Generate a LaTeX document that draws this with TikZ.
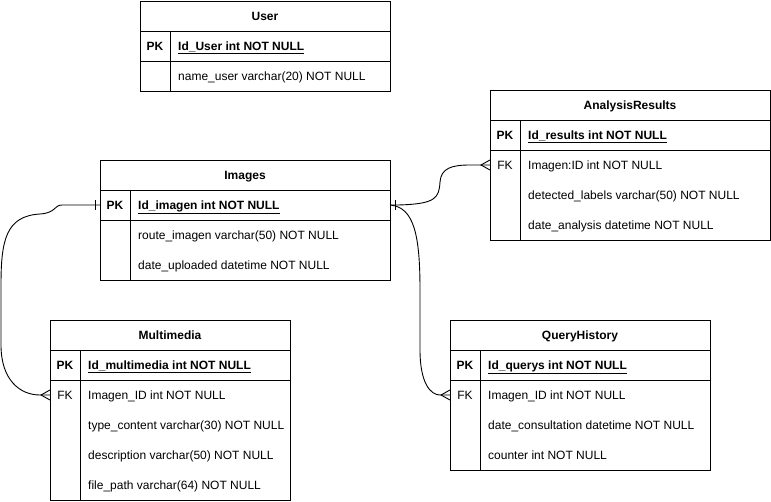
\documentclass[tikz,border=0pt]{standalone}
\usepackage{fontspec}
\setmainfont{Liberation Sans}
\begin{document}
\begin{tikzpicture}[x=1pt,y=-1pt,
  tbl/.style={draw=black, line width=0.9pt, inner sep=0pt, outer sep=0pt, anchor=north west},
  sep/.style={draw=black, line width=0.9pt},
  hd/.style={anchor=base, inner sep=0pt, font=\fontsize{12}{14}\selectfont\bfseries},
  key/.style={anchor=base, inner sep=0pt, font=\fontsize{12}{14}\selectfont\bfseries},
  fld/.style={anchor=base west, inner sep=0pt, font=\fontsize{12}{14}\selectfont},
  pkf/.style={anchor=base west, inner sep=0pt, font=\fontsize{12}{14}\selectfont\bfseries},
  conn/.style={draw=black, line width=0.9pt}]
\useasboundingbox (0,0) rectangle (771,501);

% ---------- User ----------
\node[tbl, minimum width=250pt, minimum height=90pt] (user) at (140,1) {};
\draw[sep] (140,31) -- (390,31) (140,61) -- (390,61) (170,31) -- (170,91);
\node[hd] (userT) at (265,20) {User};
\node[key] (userPK) at (155,50) {PK};
\node[pkf] (userF1) at (178,50) {\underline{Id\_User int NOT NULL}};
\node[fld] (userF2) at (178,80) {name\_user varchar(20) NOT NULL};

% ---------- AnalysisResults ----------
\node[tbl, minimum width=280pt, minimum height=150pt] (ar) at (490,90) {};
\draw[sep] (490,120) -- (770,120) (490,150) -- (770,150) (520,120) -- (520,240);
\node[hd] (arT) at (630,109) {AnalysisResults};
\node[key] (arPK) at (505,139) {PK};
\node[pkf] (arF1) at (528,139) {\underline{Id\_results int NOT NULL}};
\node[key, font=\fontsize{12}{14}\selectfont] (arFK) at (505,169) {FK};
\node[fld] (arF2) at (528,169) {Imagen:ID int NOT NULL};
\node[fld] (arF3) at (528,199) {detected\_labels varchar(50) NOT NULL};
\node[fld] (arF4) at (528,229) {date\_analysis datetime NOT NULL};

% ---------- Images ----------
\node[tbl, minimum width=290pt, minimum height=120pt] (img) at (100,160) {};
\draw[sep] (100,190) -- (390,190) (100,220) -- (390,220) (130,190) -- (130,280);
\node[hd] (imgT) at (245,179) {Images};
\node[key] (imgPK) at (115,209) {PK};
\node[pkf] (imgF1) at (138,209) {\underline{Id\_imagen int NOT NULL}};
\node[fld] (imgF2) at (138,239) {route\_imagen varchar(50) NOT NULL};
\node[fld] (imgF3) at (138,269) {date\_uploaded datetime NOT NULL};

% ---------- Multimedia ----------
\node[tbl, minimum width=240pt, minimum height=180pt] (mm) at (50,320) {};
\draw[sep] (50,350) -- (290,350) (50,380) -- (290,380) (80,350) -- (80,500);
\node[hd] (mmT) at (170,339) {Multimedia};
\node[key] (mmPK) at (65,369) {PK};
\node[pkf] (mmF1) at (88,369) {\underline{Id\_multimedia int NOT NULL}};
\node[key, font=\fontsize{12}{14}\selectfont] (mmFKl) at (65,399) {FK};
\node[fld] (mmF2) at (88,399) {Imagen\_ID int NOT NULL};
\node[fld] (mmF3) at (88,429) {type\_content varchar(30) NOT NULL};
\node[fld] (mmF4) at (88,459) {description varchar(50) NOT NULL};
\node[fld] (mmF5) at (88,489) {file\_path varchar(64) NOT NULL};

% ---------- QueryHistory ----------
\node[tbl, minimum width=260pt, minimum height=150pt] (qh) at (450,320) {};
\draw[sep] (450,350) -- (710,350) (450,380) -- (710,380) (480,350) -- (480,470);
\node[hd] (qhT) at (580,339) {QueryHistory};
\node[key] (qhPK) at (465,369) {PK};
\node[pkf] (qhF1) at (488,369) {\underline{Id\_querys int NOT NULL}};
\node[key, font=\fontsize{12}{14}\selectfont] (qhFKl) at (465,399) {FK};
\node[fld] (qhF2) at (488,399) {Imagen\_ID int NOT NULL};
\node[fld] (qhF3) at (488,429) {date\_consultation datetime NOT NULL};
\node[fld] (qhF4) at (488,459) {counter int NOT NULL};

% ---------- connector end points ----------
\coordinate (imgL) at (100,205);
\coordinate (imgR) at (390,205);
\coordinate (mmFK) at (50,395);
\coordinate (arFKp) at (490,165);
\coordinate (qhFK) at (450,395);

% Images -> Multimedia
\draw[conn] (imgL) -- (62,205) .. controls (54,205) and (56,213) .. (40,214)
  .. controls (6,216) and (1,240) .. (1,285) -- (1,345)
  .. controls (1,380) and (20,395) .. (40,395) -- (mmFK);
% Images -> AnalysisResults
\draw[conn] (imgR) -- (398,205) .. controls (436,204) and (439,198) .. (440,182)
  .. controls (441,168) and (452,165) .. (470,165) -- (arFKp);
% Images -> QueryHistory
\draw[conn] (imgR) .. controls (414,207) and (420,235) .. (420,290) -- (420,350)
  .. controls (420,382) and (430,395) .. (440,395) -- (qhFK);

% ER "one" ticks
\draw[conn] ([shift={(-5,-5)}]imgL) -- ([shift={(-5,5)}]imgL);
\draw[conn] ([shift={(5,-5)}]imgR) -- ([shift={(5,5)}]imgR);
% ER "many" crow's feet
\draw[conn] ([shift={(0,-5)}]mmFK) -- ([shift={(-9,0)}]mmFK) -- ([shift={(0,5)}]mmFK);
\draw[conn] ([shift={(0,-5)}]arFKp) -- ([shift={(-9,0)}]arFKp) -- ([shift={(0,5)}]arFKp);
\draw[conn] ([shift={(0,-5)}]qhFK) -- ([shift={(-9,0)}]qhFK) -- ([shift={(0,5)}]qhFK);
\end{tikzpicture}
\end{document}
